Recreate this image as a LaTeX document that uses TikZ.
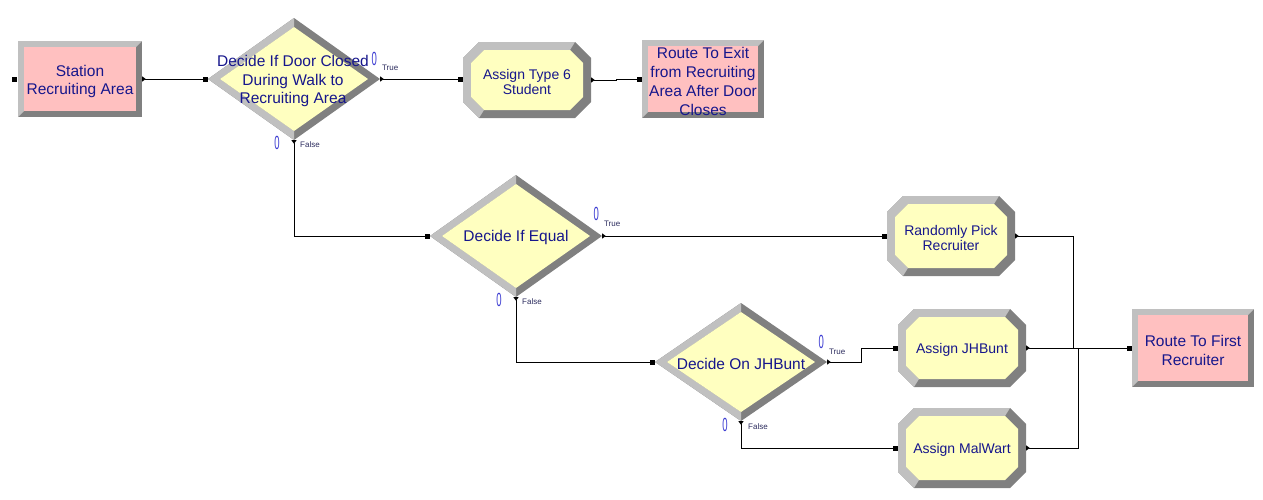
\documentclass[tikz,border=0pt]{standalone}
\usepackage{fontspec}
\setmainfont{Liberation Sans}
\usetikzlibrary{arrows.meta,calc,shapes.geometric}
\definecolor{bvlight}{RGB}{192,192,192}
\definecolor{bvdark}{RGB}{128,128,128}
\definecolor{pinkfill}{RGB}{255,192,192}
\definecolor{yelfill}{RGB}{255,255,192}
\definecolor{txtblue}{RGB}{22,22,140}
\definecolor{cntblue}{RGB}{60,60,210}
\definecolor{lblcol}{RGB}{45,45,95}
\tikzset{
  modtext/.style={text=txtblue, align=center, inner sep=0pt, font=\fontsize{15.5}{18.7}\selectfont},
  asgtext/.style={text=txtblue, align=center, inner sep=0pt, font=\fontsize{14}{15.5}\selectfont},
  cnt/.style={text=cntblue, inner sep=0pt, font=\fontsize{19}{19}\selectfont},
  brlabel/.style={text=lblcol, inner sep=0pt, font=\fontsize{8}{8}\selectfont},
  geom/.style={draw=none, inner sep=0pt},
  conn/.style={draw, line width=1pt, {Triangle[reversed,length=3.5pt,width=5pt]}-{Square[length=5pt,width=5pt]}}
}
% beveled rectangle: name x1 y1 x2 y2 text
\newcommand\bvrect[6]{%
  \fill[bvdark] (#2,#3) rectangle (#4,#5);
  \fill[bvlight] (#2,#3) -- (#4,#3) -- ({#4-6},{#3+6}) -- ({#2+6},{#3+6}) -- ({#2+6},{#5-6}) -- (#2,#5) -- cycle;
  \fill[pinkfill] ({#2+6},{#3+6}) rectangle ({#4-6},{#5-6});
  \node[geom, minimum width={(#4-#2)*1pt}, minimum height={(#5-#3)*1pt}] (#1) at ({(#2+#4)/2},{(#3+#5)/2}) {};
  \node[modtext] (#1-t) at ($(#1.center)+(0,2.5)$) {#6};
}
% beveled octagon: name x1 y1 x2 y2 text
\newcommand\bvoct[6]{%
  \fill[bvdark] ({#2+16},#3) -- ({#4-16},#3) -- (#4,{#3+16}) -- (#4,{#5-16}) -- ({#4-16},#5) -- ({#2+16},#5) -- (#2,{#5-16}) -- (#2,{#3+16}) -- cycle;
  \fill[bvlight] ({#4-16},#3) -- ({#2+16},#3) -- (#2,{#3+16}) -- (#2,{#5-16}) -- ({#2+16},#5)
     -- ({#2+21},{#5-8}) -- ({#2+8},{#5-21}) -- ({#2+8},{#3+21}) -- ({#2+21},{#3+8}) -- ({#4-21},{#3+8}) -- cycle;
  \fill[yelfill] ({#2+21},{#3+8}) -- ({#4-21},{#3+8}) -- ({#4-8},{#3+21}) -- ({#4-8},{#5-21}) -- ({#4-21},{#5-8}) -- ({#2+21},{#5-8}) -- ({#2+8},{#5-21}) -- ({#2+8},{#3+21}) -- cycle;
  \node[geom, minimum width={(#4-#2)*1pt}, minimum height={(#5-#3)*1pt}] (#1) at ({(#2+#4)/2},{(#3+#5)/2}) {};
  \node[asgtext] (#1-t) at ($(#1.center)+(0,2)$) {#6};
}
% beveled diamond: name cx cy a b
\newcommand\bvdia[5]{%
  \fill[bvdark] ({#2-#4},#3) -- (#2,{#3-#5}) -- ({#2+#4},#3) -- (#2,{#3+#5}) -- cycle;
  \fill[bvlight] (#2,{#3-#5}) -- ({#2-#4},#3) -- (#2,{#3+#5}) -- (#2,{#3+#5-9}) -- ({#2-#4+12},#3) -- (#2,{#3-#5+9}) -- cycle;
  \fill[yelfill] ({#2-#4+12},#3) -- (#2,{#3-#5+9}) -- ({#2+#4-12},#3) -- (#2,{#3+#5-9}) -- cycle;
  \node[diamond, geom, minimum width={2*#4*1pt}, minimum height={2*#5*1pt}] (#1) at (#2,#3) {};
}
\begin{document}
\begin{tikzpicture}[x=1pt,y=-1pt]
\useasboundingbox (0,0) rectangle (1263,499);
\fill[white] (0,0) rectangle (1263,499);

% modules
\bvrect{st}{18}{41}{142}{117}{Station\\Recruiting Area}
\bvdia{d1}{294}{79}{86}{61}
\node[modtext] (d1-t) at (293,81) {Decide If Door Closed\\During Walk to\\Recruiting Area};
\bvoct{a6}{463}{42}{591}{118}{Assign Type 6\\Student}
\bvrect{re}{642}{40}{764}{118}{Route To Exit\\from Recruiting\\Area After Door\\Closes}
\bvdia{d2}{516}{236}{86}{61}
\node[modtext] (d2-t) at (516,237) {Decide If Equal};
\bvoct{rp}{887}{196}{1015}{276}{Randomly Pick\\Recruiter}
\bvdia{d3}{741}{362}{86}{59}
\node[modtext] (d3-t) at (741,364) {Decide On JHBunt};
\bvoct{aj}{898}{309}{1026}{387}{Assign JHBunt}
\bvoct{am}{898}{408}{1026}{488}{Assign MalWart}
\bvrect{rf}{1132}{309}{1254}{387}{Route To First\\Recruiter}

% counters and branch labels
\node[cnt] (d1c1) at ($(d1.east)+(-6,-20)$) {\scalebox{0.5}[1]{0}};
\node[brlabel] (d1l1) at ($(d1.east)+(10,-11)$) {True};
\node[cnt] (d1c2) at ($(d1.south)+(-17,3)$) {\scalebox{0.5}[1]{0}};
\node[brlabel] (d1l2) at ($(d1.south)+(16,4)$) {False};
\node[cnt] (d2c1) at ($(d2.east)+(-6,-22)$) {\scalebox{0.5}[1]{0}};
\node[brlabel] (d2l1) at ($(d2.east)+(10,-12)$) {True};
\node[cnt] (d2c2) at ($(d2.south)+(-17,3)$) {\scalebox{0.5}[1]{0}};
\node[brlabel] (d2l2) at ($(d2.south)+(16,4)$) {False};
\node[cnt] (d3c1) at ($(d3.east)+(-6,-20)$) {\scalebox{0.5}[1]{0}};
\node[brlabel] (d3l1) at ($(d3.east)+(10,-10)$) {True};
\node[cnt] (d3c2) at ($(d3.south)+(-16,4)$) {\scalebox{0.5}[1]{0}};
\node[brlabel] (d3l2) at ($(d3.south)+(17,5)$) {False};

% unconnected entry point of the station
\fill ($(st.west)+(-5.5,-2.5)$) rectangle ++(5,5);

% connectors
\draw[conn] (st.east) -- (d1.west);
\draw[conn] (d1.east) -- (d1.east -| a6.west);
\draw[conn] (a6.east) -- ++(25,0) |- (re.west);
\draw[conn] (d1.south) |- (d2.west);
\draw[conn] (d2.east) -- (d2.east -| rp.west);
\draw[conn] (d2.south) |- (d3.west);
\draw[conn] (d3.east) -- ++(34,0) |- (aj.west);
\draw[conn] (d3.south) |- (am.west);
\draw[conn] (rp.east) -- ++(58,0) |- (rf.west);
\draw[conn] (aj.east) -- (rf.west);
\draw[conn] (am.east) -- ++(52,0) |- (rf.west);
\end{tikzpicture}
\end{document}
